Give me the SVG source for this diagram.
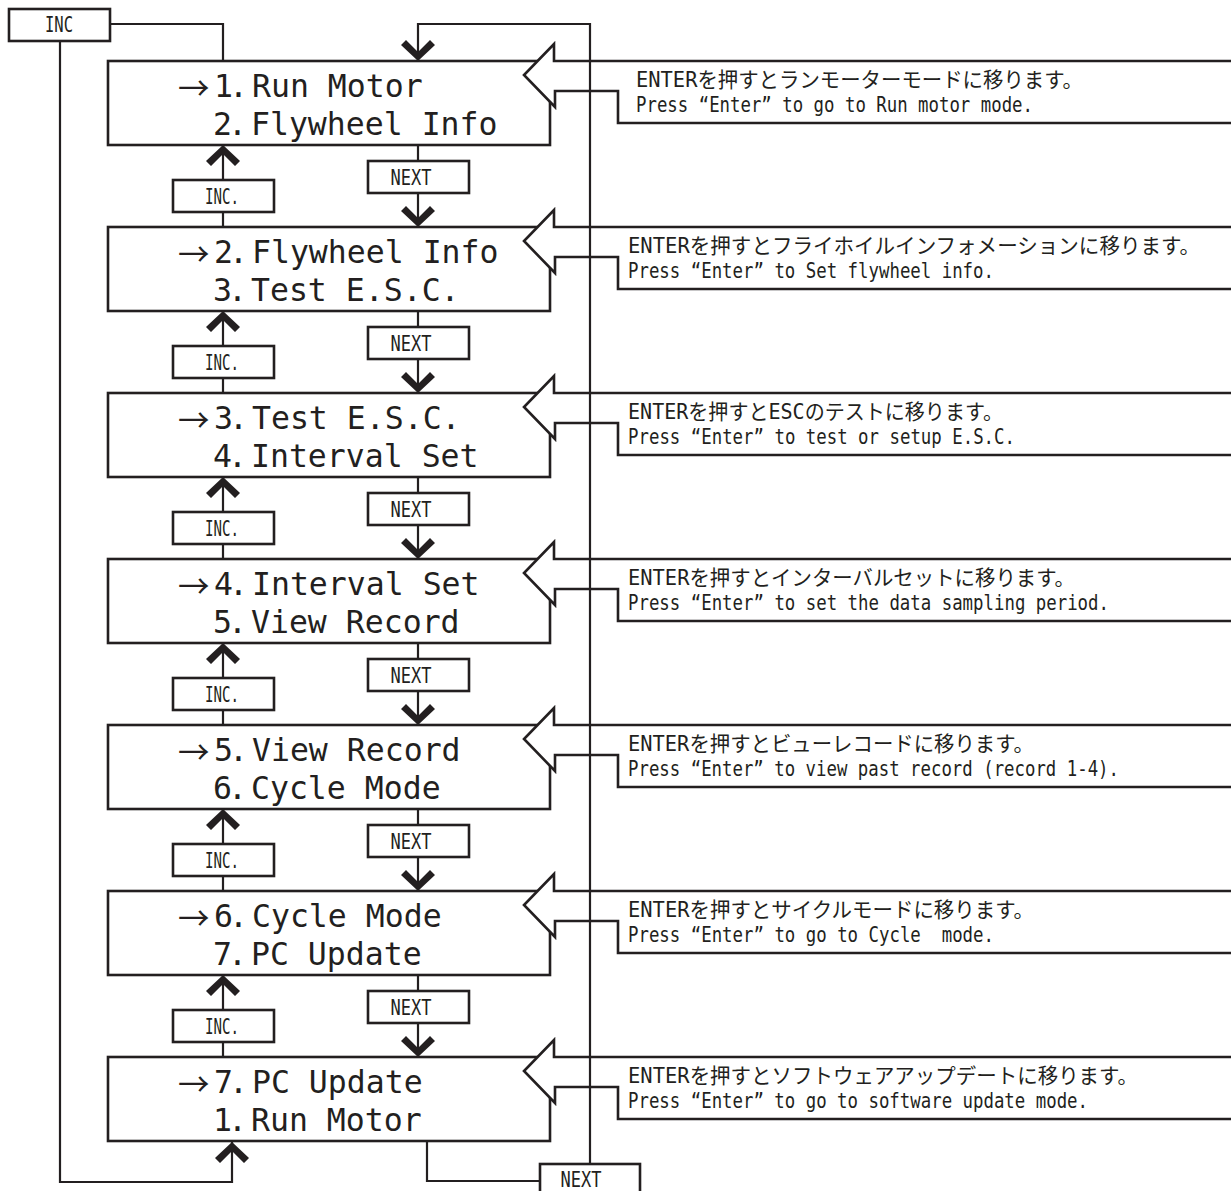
<svg xmlns="http://www.w3.org/2000/svg" xmlns:xlink="http://www.w3.org/1999/xlink" width="1231" height="1191" viewBox="0 0 1231 1191">
<style>
.box{fill:#fff;stroke:#231f20;stroke-width:2.6}
.co{fill:#fff;stroke:#231f20;stroke-width:2.6;stroke-linejoin:miter}
.ln{fill:none;stroke:#231f20;stroke-width:2.2}
.chev{fill:#231f20}
.big{font-family:'DejaVu Sans Mono',monospace;font-size:31.5px;fill:#231f20}
.arr{font-family:'Noto Sans CJK JP',sans-serif}
.jp{font-family:'DejaVu Sans Mono','Noto Sans CJK JP',monospace;font-size:21px;fill:#231f20}
.en{font-family:'DejaVu Sans Mono',monospace;font-size:21px;fill:#231f20}
.lbl{font-family:'DejaVu Sans Mono',monospace;font-size:21px;fill:#231f20;text-anchor:middle}
</style>
<defs>
<path id="chevDown" class="chev" d="M0,0 L-17,-16 L-12,-21 L0,-9 L12,-21 L17,-16 Z"/>
<path id="chevUp" class="chev" d="M0,0 L-17,16 L-12,21 L0,9 L12,21 L17,16 Z"/>
</defs>
<rect width="1231" height="1191" fill="#fff"/>

<g id="row1">
<rect class="box" x="108" y="61" width="442" height="84"/>
<path class="co" d="M1233,61 H554 V44 L524,75 L555,107 V91 H618 V123 H1233"/>
<text class="big" y="97"><tspan class="arr" x="178" y="100">→</tspan><tspan x="214 229 233" y="97">1. Run Motor</tspan></text>
<text class="big" x="213 228 232" y="135">2. Flywheel Info</text>
<text class="jp" x="636" y="87" textLength="447" lengthAdjust="spacingAndGlyphs">ENTERを押すとランモーターモードに移ります。</text>
<text class="en" x="636" y="112" textLength="397" lengthAdjust="spacingAndGlyphs">Press “Enter” to go to Run motor mode.</text>
</g>

<g id="row2">
<rect class="box" x="108" y="227" width="442" height="84"/>
<path class="co" d="M1233,227 H554 V210 L524,241 L555,273 V257 H618 V289 H1233"/>
<text class="big" y="263"><tspan class="arr" x="178" y="266">→</tspan><tspan x="214 229 233" y="263">2. Flywheel Info</tspan></text>
<text class="big" x="213 228 232" y="301">3. Test E.S.C.</text>
<text class="jp" x="628" y="253" textLength="572" lengthAdjust="spacingAndGlyphs">ENTERを押すとフライホイルインフォメーションに移ります。</text>
<text class="en" x="628" y="278" textLength="366" lengthAdjust="spacingAndGlyphs">Press “Enter” to Set flywheel info.</text>
</g>

<g id="row3">
<rect class="box" x="108" y="393" width="442" height="84"/>
<path class="co" d="M1233,393 H554 V376 L524,407 L555,439 V423 H618 V455 H1233"/>
<text class="big" y="429"><tspan class="arr" x="178" y="432">→</tspan><tspan x="214 229 233" y="429">3. Test E.S.C.</tspan></text>
<text class="big" x="213 228 232" y="467">4. Interval Set</text>
<text class="jp" x="628" y="419" textLength="375" lengthAdjust="spacingAndGlyphs">ENTERを押すとESCのテストに移ります。</text>
<text class="en" x="628" y="444" textLength="387" lengthAdjust="spacingAndGlyphs">Press “Enter” to test or setup E.S.C.</text>
</g>

<g id="row4">
<rect class="box" x="108" y="559" width="442" height="84"/>
<path class="co" d="M1233,559 H554 V542 L524,573 L555,605 V589 H618 V621 H1233"/>
<text class="big" y="595"><tspan class="arr" x="178" y="598">→</tspan><tspan x="214 229 233" y="595">4. Interval Set</tspan></text>
<text class="big" x="213 228 232" y="633">5. View Record</text>
<text class="jp" x="628" y="585" textLength="447" lengthAdjust="spacingAndGlyphs">ENTERを押すとインターバルセットに移ります。</text>
<text class="en" x="628" y="610" textLength="481" lengthAdjust="spacingAndGlyphs">Press “Enter” to set the data sampling period.</text>
</g>

<g id="row5">
<rect class="box" x="108" y="725" width="442" height="84"/>
<path class="co" d="M1233,725 H554 V708 L524,739 L555,771 V755 H618 V787 H1233"/>
<text class="big" y="761"><tspan class="arr" x="178" y="764">→</tspan><tspan x="214 229 233" y="761">5. View Record</tspan></text>
<text class="big" x="213 228 232" y="799">6. Cycle Mode</text>
<text class="jp" x="628" y="751" textLength="406" lengthAdjust="spacingAndGlyphs">ENTERを押すとビューレコードに移ります。</text>
<text class="en" x="628" y="776" textLength="491" lengthAdjust="spacingAndGlyphs">Press “Enter” to view past record (record 1-4).</text>
</g>

<g id="row6">
<rect class="box" x="108" y="891" width="442" height="84"/>
<path class="co" d="M1233,891 H554 V874 L524,905 L555,937 V921 H618 V953 H1233"/>
<text class="big" y="927"><tspan class="arr" x="178" y="930">→</tspan><tspan x="214 229 233" y="927">6. Cycle Mode</tspan></text>
<text class="big" x="213 228 232" y="965">7. PC Update</text>
<text class="jp" x="628" y="917" textLength="406" lengthAdjust="spacingAndGlyphs">ENTERを押すとサイクルモードに移ります。</text>
<text class="en" x="628" y="942" textLength="366" lengthAdjust="spacingAndGlyphs" xml:space="preserve" style="white-space:pre">Press “Enter” to go to Cycle  mode.</text>
</g>

<g id="row7">
<rect class="box" x="108" y="1057" width="442" height="84"/>
<path class="co" d="M1233,1057 H554 V1040 L524,1071 L555,1103 V1087 H618 V1119 H1233"/>
<text class="big" y="1093"><tspan class="arr" x="178" y="1096">→</tspan><tspan x="214 229 233" y="1093">7. PC Update</tspan></text>
<text class="big" x="213 228 232" y="1131">1. Run Motor</text>
<text class="jp" x="628" y="1083" textLength="510" lengthAdjust="spacingAndGlyphs">ENTERを押すとソフトウェアアップデートに移ります。</text>
<text class="en" x="628" y="1108" textLength="460" lengthAdjust="spacingAndGlyphs">Press “Enter” to go to software update mode.</text>
</g>

<g id="connectors">
<path class="ln" d="M110,24 H223 V61"/>
<path class="ln" d="M60,41 V1182 H232 V1142"/>
<use xlink:href="#chevUp" href="#chevUp" x="232" y="1142"/>
<path class="ln" d="M590,1164 V24 H418 V61"/>
<use xlink:href="#chevDown" href="#chevDown" x="418" y="61"/>
<path class="ln" d="M427,1142 V1181 H540"/>

<path class="ln" d="M418,145 V161 M418,193 V227 M223,180 V145 M223,212 V227"/>
<use href="#chevDown" x="418" y="227"/><use href="#chevUp" x="223" y="145"/>
<path class="ln" d="M418,311 V327 M418,359 V393 M223,346 V311 M223,378 V393"/>
<use href="#chevDown" x="418" y="393"/><use href="#chevUp" x="223" y="311"/>
<path class="ln" d="M418,477 V493 M418,525 V559 M223,512 V477 M223,544 V559"/>
<use href="#chevDown" x="418" y="559"/><use href="#chevUp" x="223" y="477"/>
<path class="ln" d="M418,643 V659 M418,691 V725 M223,678 V643 M223,710 V725"/>
<use href="#chevDown" x="418" y="725"/><use href="#chevUp" x="223" y="643"/>
<path class="ln" d="M418,809 V825 M418,857 V891 M223,844 V809 M223,876 V891"/>
<use href="#chevDown" x="418" y="891"/><use href="#chevUp" x="223" y="809"/>
<path class="ln" d="M418,975 V991 M418,1023 V1057 M223,1010 V975 M223,1042 V1057"/>
<use href="#chevDown" x="418" y="1057"/><use href="#chevUp" x="223" y="975"/>
</g>

<g id="inc-top"><rect class="box" x="9" y="9" width="101" height="32"/><text class="lbl" x="59" y="32" textLength="28" lengthAdjust="spacingAndGlyphs">INC</text></g>
<g id="next-bottom"><rect class="box" x="540" y="1164" width="100" height="40"/><text class="lbl" x="581" y="1187" textLength="41" lengthAdjust="spacingAndGlyphs">NEXT</text></g>

<g id="next1"><rect class="box" x="368" y="161" width="101" height="32"/><text class="lbl" x="411" y="185" textLength="41" lengthAdjust="spacingAndGlyphs">NEXT</text></g>
<g id="inc1"><rect class="box" x="173" y="180" width="101" height="32"/><text class="lbl" x="222" y="204" textLength="34" lengthAdjust="spacingAndGlyphs">INC.</text></g>
<g id="next2"><rect class="box" x="368" y="327" width="101" height="32"/><text class="lbl" x="411" y="351" textLength="41" lengthAdjust="spacingAndGlyphs">NEXT</text></g>
<g id="inc2"><rect class="box" x="173" y="346" width="101" height="32"/><text class="lbl" x="222" y="370" textLength="34" lengthAdjust="spacingAndGlyphs">INC.</text></g>
<g id="next3"><rect class="box" x="368" y="493" width="101" height="32"/><text class="lbl" x="411" y="517" textLength="41" lengthAdjust="spacingAndGlyphs">NEXT</text></g>
<g id="inc3"><rect class="box" x="173" y="512" width="101" height="32"/><text class="lbl" x="222" y="536" textLength="34" lengthAdjust="spacingAndGlyphs">INC.</text></g>
<g id="next4"><rect class="box" x="368" y="659" width="101" height="32"/><text class="lbl" x="411" y="683" textLength="41" lengthAdjust="spacingAndGlyphs">NEXT</text></g>
<g id="inc4"><rect class="box" x="173" y="678" width="101" height="32"/><text class="lbl" x="222" y="702" textLength="34" lengthAdjust="spacingAndGlyphs">INC.</text></g>
<g id="next5"><rect class="box" x="368" y="825" width="101" height="32"/><text class="lbl" x="411" y="849" textLength="41" lengthAdjust="spacingAndGlyphs">NEXT</text></g>
<g id="inc5"><rect class="box" x="173" y="844" width="101" height="32"/><text class="lbl" x="222" y="868" textLength="34" lengthAdjust="spacingAndGlyphs">INC.</text></g>
<g id="next6"><rect class="box" x="368" y="991" width="101" height="32"/><text class="lbl" x="411" y="1015" textLength="41" lengthAdjust="spacingAndGlyphs">NEXT</text></g>
<g id="inc6"><rect class="box" x="173" y="1010" width="101" height="32"/><text class="lbl" x="222" y="1034" textLength="34" lengthAdjust="spacingAndGlyphs">INC.</text></g>
</svg>
